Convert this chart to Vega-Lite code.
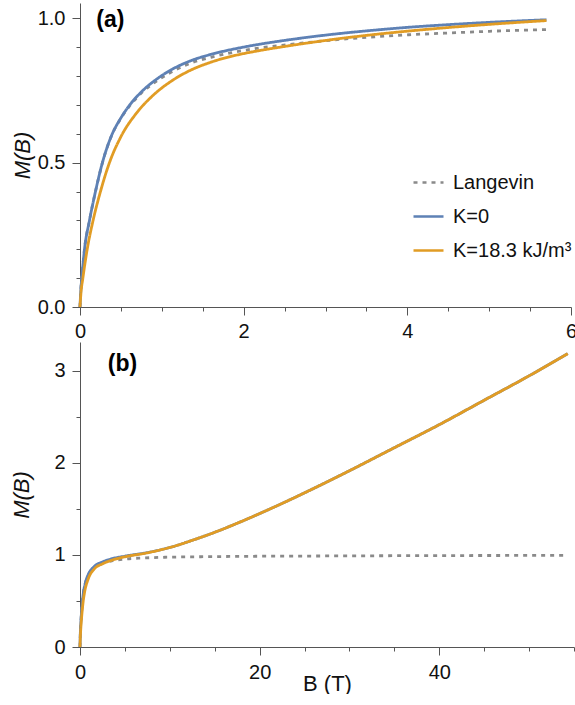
{
  "$schema": "https://vega.github.io/schema/vega-lite/v6.json",
  "padding": {"left": 10, "top": 3, "right": 0, "bottom": 0},
  "spacing": 1,
  "config": {
    "font": "Liberation Sans",
    "view": {"stroke": null},
    "axis": {"grid": false, "domainColor": "#555555", "tickColor": "#555555", "labelColor": "#111111", "labelFontSize": 20, "titleFontSize": 22, "titleFontWeight": "normal", "titleColor": "#111111", "labelFlush": false, "labelOverlap": false, "tickWidth": 1, "domainWidth": 1},
    "legend": {"labelFontSize": 20, "labelColor": "#111111", "symbolStrokeWidth": 2.7, "symbolSize": 900, "labelOffset": 8, "rowPadding": 7}
  },
  "resolve": {"scale": {"color": "independent", "strokeDash": "independent"}},
  "datasets": {
    "a": [
      {"B": 0, "M": 0, "s": "Langevin"}, {"B": 0.008, "M": 0.05, "s": "Langevin"}, {"B": 0.022, "M": 0.1, "s": "Langevin"}, {"B": 0.055, "M": 0.2, "s": "Langevin"}, {"B": 0.116, "M": 0.3, "s": "Langevin"}, {"B": 0.189, "M": 0.4, "s": "Langevin"}, {"B": 0.274, "M": 0.5, "s": "Langevin"}, {"B": 0.38, "M": 0.59, "s": "Langevin"}, {"B": 0.5, "M": 0.654, "s": "Langevin"}, {"B": 0.6, "M": 0.694, "s": "Langevin"}, {"B": 0.75, "M": 0.741, "s": "Langevin"}, {"B": 0.97, "M": 0.789, "s": "Langevin"}, {"B": 1.13, "M": 0.816, "s": "Langevin"}, {"B": 1.335, "M": 0.843, "s": "Langevin"}, {"B": 1.6, "M": 0.865, "s": "Langevin"}, {"B": 1.905, "M": 0.884, "s": "Langevin"}, {"B": 2.19, "M": 0.897, "s": "Langevin"}, {"B": 2.49, "M": 0.907, "s": "Langevin"}, {"B": 3.1, "M": 0.925, "s": "Langevin"}, {"B": 3.6, "M": 0.936, "s": "Langevin"}, {"B": 4.02, "M": 0.943, "s": "Langevin"}, {"B": 4.5, "M": 0.949, "s": "Langevin"}, {"B": 5.0, "M": 0.955, "s": "Langevin"}, {"B": 5.7, "M": 0.961, "s": "Langevin"},
      {"B": 0, "M": 0, "s": "K=0"}, {"B": 0.008, "M": 0.05, "s": "K=0"}, {"B": 0.022, "M": 0.1, "s": "K=0"}, {"B": 0.055, "M": 0.2, "s": "K=0"}, {"B": 0.116, "M": 0.3, "s": "K=0"}, {"B": 0.189, "M": 0.4, "s": "K=0"}, {"B": 0.274, "M": 0.5, "s": "K=0"}, {"B": 0.38, "M": 0.59, "s": "K=0"}, {"B": 0.5, "M": 0.655, "s": "K=0"}, {"B": 0.6, "M": 0.697, "s": "K=0"}, {"B": 0.75, "M": 0.745, "s": "K=0"}, {"B": 0.97, "M": 0.796, "s": "K=0"}, {"B": 1.13, "M": 0.824, "s": "K=0"}, {"B": 1.335, "M": 0.851, "s": "K=0"}, {"B": 1.6, "M": 0.875, "s": "K=0"}, {"B": 1.905, "M": 0.895, "s": "K=0"}, {"B": 2.19, "M": 0.91, "s": "K=0"}, {"B": 2.49, "M": 0.923, "s": "K=0"}, {"B": 3.1, "M": 0.945, "s": "K=0"}, {"B": 3.6, "M": 0.959, "s": "K=0"}, {"B": 4.02, "M": 0.969, "s": "K=0"}, {"B": 4.5, "M": 0.978, "s": "K=0"}, {"B": 5.0, "M": 0.986, "s": "K=0"}, {"B": 5.7, "M": 0.995, "s": "K=0"},
      {"B": 0, "M": 0, "s": "K=18.3 kJ/m³"}, {"B": 0.012, "M": 0.05, "s": "K=18.3 kJ/m³"}, {"B": 0.035, "M": 0.1, "s": "K=18.3 kJ/m³"}, {"B": 0.088, "M": 0.2, "s": "K=18.3 kJ/m³"}, {"B": 0.16, "M": 0.3, "s": "K=18.3 kJ/m³"}, {"B": 0.25, "M": 0.4, "s": "K=18.3 kJ/m³"}, {"B": 0.36, "M": 0.5, "s": "K=18.3 kJ/m³"}, {"B": 0.5, "M": 0.59, "s": "K=18.3 kJ/m³"}, {"B": 0.7, "M": 0.675, "s": "K=18.3 kJ/m³"}, {"B": 0.9, "M": 0.735, "s": "K=18.3 kJ/m³"}, {"B": 1.13, "M": 0.785, "s": "K=18.3 kJ/m³"}, {"B": 1.335, "M": 0.818, "s": "K=18.3 kJ/m³"}, {"B": 1.6, "M": 0.848, "s": "K=18.3 kJ/m³"}, {"B": 1.905, "M": 0.872, "s": "K=18.3 kJ/m³"}, {"B": 2.19, "M": 0.888, "s": "K=18.3 kJ/m³"}, {"B": 2.49, "M": 0.902, "s": "K=18.3 kJ/m³"}, {"B": 3.1, "M": 0.927, "s": "K=18.3 kJ/m³"}, {"B": 3.6, "M": 0.944, "s": "K=18.3 kJ/m³"}, {"B": 4.02, "M": 0.956, "s": "K=18.3 kJ/m³"}, {"B": 4.5, "M": 0.968, "s": "K=18.3 kJ/m³"}, {"B": 5.0, "M": 0.979, "s": "K=18.3 kJ/m³"}, {"B": 5.7, "M": 0.992, "s": "K=18.3 kJ/m³"}
    ],
    "b": [
      {"B": 0, "M": 0, "s": "Langevin"}, {"B": 0.022, "M": 0.1, "s": "Langevin"}, {"B": 0.055, "M": 0.2, "s": "Langevin"}, {"B": 0.116, "M": 0.3, "s": "Langevin"}, {"B": 0.189, "M": 0.4, "s": "Langevin"}, {"B": 0.274, "M": 0.5, "s": "Langevin"}, {"B": 0.38, "M": 0.59, "s": "Langevin"}, {"B": 0.6, "M": 0.694, "s": "Langevin"}, {"B": 0.97, "M": 0.789, "s": "Langevin"}, {"B": 1.6, "M": 0.865, "s": "Langevin"}, {"B": 2.49, "M": 0.907, "s": "Langevin"}, {"B": 3.6, "M": 0.936, "s": "Langevin"}, {"B": 5.0, "M": 0.955, "s": "Langevin"}, {"B": 7, "M": 0.966, "s": "Langevin"}, {"B": 10, "M": 0.975, "s": "Langevin"}, {"B": 15, "M": 0.981, "s": "Langevin"}, {"B": 20, "M": 0.985, "s": "Langevin"}, {"B": 25, "M": 0.987, "s": "Langevin"}, {"B": 30, "M": 0.989, "s": "Langevin"}, {"B": 40, "M": 0.992, "s": "Langevin"}, {"B": 54.3, "M": 0.994, "s": "Langevin"},
      {"B": 0, "M": 0, "s": "K=0"}, {"B": 0.022, "M": 0.1, "s": "K=0"}, {"B": 0.055, "M": 0.2, "s": "K=0"}, {"B": 0.116, "M": 0.3, "s": "K=0"}, {"B": 0.189, "M": 0.4, "s": "K=0"}, {"B": 0.274, "M": 0.5, "s": "K=0"}, {"B": 0.38, "M": 0.59, "s": "K=0"}, {"B": 0.6, "M": 0.697, "s": "K=0"}, {"B": 0.97, "M": 0.796, "s": "K=0"}, {"B": 1.6, "M": 0.875, "s": "K=0"}, {"B": 2.49, "M": 0.923, "s": "K=0"}, {"B": 3.6, "M": 0.959, "s": "K=0"}, {"B": 5.0, "M": 0.986, "s": "K=0"}, {"B": 7.5, "M": 1.025, "s": "K=0"}, {"B": 10, "M": 1.08, "s": "K=0"}, {"B": 12.5, "M": 1.158, "s": "K=0"}, {"B": 15, "M": 1.245, "s": "K=0"}, {"B": 17.5, "M": 1.343, "s": "K=0"}, {"B": 20, "M": 1.448, "s": "K=0"}, {"B": 22.5, "M": 1.558, "s": "K=0"}, {"B": 25, "M": 1.673, "s": "K=0"}, {"B": 30, "M": 1.913, "s": "K=0"}, {"B": 35, "M": 2.163, "s": "K=0"}, {"B": 40, "M": 2.413, "s": "K=0"}, {"B": 45, "M": 2.678, "s": "K=0"}, {"B": 50, "M": 2.943, "s": "K=0"}, {"B": 54.3, "M": 3.184, "s": "K=0"},
      {"B": 0, "M": 0, "s": "K=18.3 kJ/m³"}, {"B": 0.035, "M": 0.1, "s": "K=18.3 kJ/m³"}, {"B": 0.088, "M": 0.2, "s": "K=18.3 kJ/m³"}, {"B": 0.16, "M": 0.3, "s": "K=18.3 kJ/m³"}, {"B": 0.25, "M": 0.4, "s": "K=18.3 kJ/m³"}, {"B": 0.36, "M": 0.5, "s": "K=18.3 kJ/m³"}, {"B": 0.5, "M": 0.59, "s": "K=18.3 kJ/m³"}, {"B": 0.9, "M": 0.735, "s": "K=18.3 kJ/m³"}, {"B": 1.6, "M": 0.848, "s": "K=18.3 kJ/m³"}, {"B": 2.49, "M": 0.902, "s": "K=18.3 kJ/m³"}, {"B": 3.6, "M": 0.944, "s": "K=18.3 kJ/m³"}, {"B": 5.0, "M": 0.979, "s": "K=18.3 kJ/m³"}, {"B": 7.5, "M": 1.022, "s": "K=18.3 kJ/m³"}, {"B": 10, "M": 1.08, "s": "K=18.3 kJ/m³"}, {"B": 12.5, "M": 1.158, "s": "K=18.3 kJ/m³"}, {"B": 15, "M": 1.245, "s": "K=18.3 kJ/m³"}, {"B": 17.5, "M": 1.343, "s": "K=18.3 kJ/m³"}, {"B": 20, "M": 1.448, "s": "K=18.3 kJ/m³"}, {"B": 22.5, "M": 1.558, "s": "K=18.3 kJ/m³"}, {"B": 25, "M": 1.673, "s": "K=18.3 kJ/m³"}, {"B": 30, "M": 1.913, "s": "K=18.3 kJ/m³"}, {"B": 35, "M": 2.163, "s": "K=18.3 kJ/m³"}, {"B": 40, "M": 2.413, "s": "K=18.3 kJ/m³"}, {"B": 45, "M": 2.678, "s": "K=18.3 kJ/m³"}, {"B": 50, "M": 2.943, "s": "K=18.3 kJ/m³"}, {"B": 54.3, "M": 3.184, "s": "K=18.3 kJ/m³"}
    ]
  },
  "vconcat": [
    {
      "width": 491,
      "height": 304,
      "resolve": {"axis": {"x": "independent", "y": "independent"}},
      "layer": [
        {
          "data": {"name": "a"},
          "mark": {"type": "line", "interpolate": "monotone", "strokeWidth": 2.8},
          "encoding": {
            "x": {"field": "B", "type": "quantitative", "scale": {"domain": [0, 6], "nice": false},
              "axis": {"orient": "bottom", "title": null, "values": [0, 2, 4, 6], "format": "d", "tickSize": 8, "labelPadding": 6}},
            "y": {"field": "M", "type": "quantitative", "scale": {"domain": [0, 1.053], "nice": false},
              "axis": {"orient": "left", "title": "M(B)", "titleFontStyle": "italic", "titlePadding": 3, "values": [0, 0.5, 1], "format": ".1f", "tickSize": 8, "labelPadding": 7}},
            "color": {"field": "s", "type": "nominal", "sort": null, "scale": {"domain": ["Langevin", "K=0", "K=18.3 kJ/m³"], "range": ["#8a8a8a", "#5E81B5", "#E19C24"]},
              "legend": {"title": null, "orient": "none", "legendX": 332, "legendY": 163}},
            "strokeDash": {"field": "s", "type": "nominal", "sort": null, "scale": {"domain": ["Langevin", "K=0", "K=18.3 kJ/m³"], "range": [[4, 5], [1, 0], [1, 0]]},
              "legend": {"title": null, "orient": "none", "legendX": 332, "legendY": 163}}
          }
        },
        {
          "data": {"values": [{"t": "(a)"}]},
          "mark": {"type": "text", "fontWeight": "bold", "fontSize": 23, "align": "left", "baseline": "middle", "color": "#000000"},
          "encoding": {
            "x": {"datum": 0.2, "type": "quantitative", "axis": {"orient": "bottom", "title": null, "labels": false, "domain": false, "tickSize": 4, "values": [0.5, 1, 1.5, 2.5, 3, 3.5, 4.5, 5, 5.5]}},
            "y": {"datum": 0.995, "type": "quantitative", "axis": {"orient": "left", "title": null, "labels": false, "domain": false, "tickSize": 4, "values": [0.1, 0.2, 0.3, 0.4, 0.6, 0.7, 0.8, 0.9]}},
            "text": {"field": "t"}
          }
        }
      ]
    },
    {
      "width": 494,
      "height": 305,
      "resolve": {"axis": {"x": "independent", "y": "independent"}},
      "layer": [
        {
          "data": {"name": "b"},
          "mark": {"type": "line", "interpolate": "monotone", "strokeWidth": 2.8},
          "encoding": {
            "x": {"field": "B", "type": "quantitative", "scale": {"domain": [0, 55], "nice": false},
              "axis": {"orient": "bottom", "title": "B (T)", "titlePadding": -9, "values": [0, 20, 40], "format": "d", "tickSize": 8, "labelPadding": 7}},
            "y": {"field": "M", "type": "quantitative", "scale": {"domain": [0, 3.31], "nice": false},
              "axis": {"orient": "left", "title": "M(B)", "titleFontStyle": "italic", "titlePadding": 20, "values": [0, 1, 2, 3], "format": "d", "tickSize": 8, "labelPadding": 7}},
            "color": {"field": "s", "type": "nominal", "sort": null, "scale": {"domain": ["Langevin", "K=0", "K=18.3 kJ/m³"], "range": ["#8a8a8a", "#5E81B5", "#E19C24"]}, "legend": null},
            "strokeDash": {"field": "s", "type": "nominal", "sort": null, "scale": {"domain": ["Langevin", "K=0", "K=18.3 kJ/m³"], "range": [[4, 5], [1, 0], [1, 0]]}, "legend": null}
          }
        },
        {
          "data": {"values": [{"t": "(b)"}]},
          "mark": {"type": "text", "fontWeight": "bold", "fontSize": 23, "align": "left", "baseline": "middle", "color": "#000000"},
          "encoding": {
            "x": {"datum": 3.1, "type": "quantitative", "axis": {"orient": "bottom", "title": null, "labels": false, "domain": false, "tickSize": 4, "values": [5, 10, 15, 25, 30, 35, 45, 50, 55]}},
            "y": {"datum": 3.07, "type": "quantitative", "axis": {"orient": "left", "title": null, "labels": false, "domain": false, "tickSize": 4, "values": [0.5, 1.5, 2.5]}},
            "text": {"field": "t"}
          }
        }
      ]
    }
  ]
}
